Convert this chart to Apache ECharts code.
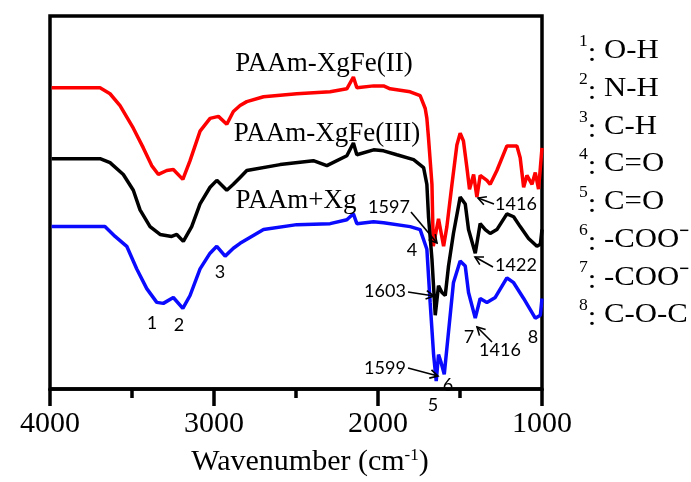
<!DOCTYPE html>
<html>
<head>
<meta charset="utf-8">
<script src="https://cdn.jsdelivr.net/npm/echarts@6/dist/echarts.min.js"></script>
<style>
html,body{margin:0;padding:0;background:#fff;}
#chart{width:691px;height:482px;}
</style>
</head>
<body>
<div id="chart"></div>
<script>
// ---- data (wavenumber in cm-1, relative transmittance, arbitrary offset units) ----
const seriesNames = ['PAAm-XgFe(II)', 'PAAm-XgFe(III)', 'PAAm+Xg'];
const redX = [3990,3695,3634,3573,3492,3431,3380,3339,3288,3248,3190,3146,3085,3024,2973,2922,2882,2841,2800,2698,2495,2292,2190,2150,2129,2027,1966,1926,1804,1743,1712,1702,1692,1671,1663,1631,1600,1580,1549,1519,1499,1479,1458,1442,1417,1397,1377,1336,1316,1275,1214,1153,1133,1112,1092,1061,1041,1021,1000];
const redY = [306,306,300,288,265,245,227,218,222,223,213,232,262,275,277,269,282,288,292,297,300,302,305,317,306,308,308,305,302,298,285,275,255,208,145,173,145,165,208,248,260,252,225,203,218,195,217,212,208,222,247,247,235,205,217,208,220,203,245];
const blackX = [3990,3695,3634,3553,3492,3451,3390,3329,3258,3227,3187,3136,3085,3024,2983,2922,2882,2841,2800,2597,2394,2312,2190,2150,2129,2027,1966,1885,1783,1722,1702,1692,1671,1651,1631,1610,1590,1570,1540,1499,1468,1448,1407,1377,1346,1316,1275,1214,1173,1133,1082,1031,1010,1000];
const blackY = [234,234,230,218,202,182,165,157,155,157,150,165,188,205,212,202,208,215,222,228,232,227,237,250,238,243,242,238,233,225,208,175,132,75,105,98,95,125,158,195,188,162,138,168,162,158,162,178,175,165,153,145,147,162];
const blueX = [3990,3665,3603,3532,3471,3410,3349,3309,3248,3190,3146,3085,3024,2983,2932,2882,2841,2698,2495,2292,2190,2150,2129,2027,1966,1804,1743,1702,1682,1661,1645,1631,1617,1596,1570,1540,1499,1468,1448,1407,1377,1336,1285,1214,1173,1112,1041,1010,1000];
const blueY = [165,165,155,145,122,102,88,87,93,82,95,122,138,145,135,143,148,162,167,168,172,178,168,170,169,165,162,142,88,35,8,35,28,15,58,108,130,125,98,72,92,88,93,113,108,92,72,75,92];
const xTickLabels = [4000, 3000, 2000, 1000];
const bandNums = ['1','2','3','4','5','6','7','8'];
const bandNames = ['O-H','N-H','C-H','C=O','C=O','-COO\u207B','-COO\u207B','C-O-C'];

// ---- helpers ----
const SERIF = '"Liberation Serif", "Times New Roman", serif';
const SANS = 'Lato, "Open Sans", sans-serif';
function zip(xs, ys){ return xs.map((x,i)=>[x, ys[i]]); }
function txt(t, x, y, size, fam, extra){
  return Object.assign({type:'text', x:x, y:y, z:100,
    style:{text:t, fontSize:size, fontFamily:fam, fill:'#000', align:'center', verticalAlign:'middle'}}, extra||{});
}
function arrow(x1,y1,x2,y2){
  const ang = Math.atan2(y2-y1, x2-x1), L = 9, a = 0.5;
  const p1 = [x2 - L*Math.cos(ang-a), y2 - L*Math.sin(ang-a)];
  const p2 = [x2 - L*Math.cos(ang+a), y2 - L*Math.sin(ang+a)];
  return [
    {type:'line', z:100, shape:{x1:x1,y1:y1,x2:x2,y2:y2}, style:{stroke:'#000', lineWidth:1.6}},
    {type:'polyline', z:100, shape:{points:[p1,[x2,y2],p2]}, style:{stroke:'#000', lineWidth:1.6, fill:null}}
  ];
}

const graphics = [];
// curve labels
graphics.push(txt(seriesNames[0], 324, 64, 27, SERIF));
graphics.push(txt(seriesNames[1], 327, 134, 27, SERIF));
graphics.push(txt(seriesNames[2], 296, 201, 27, SERIF));
// peak numbers
graphics.push(txt('1597', 389, 207, 18, SANS));
graphics.push(...arrow(411, 212, 437, 243));
graphics.push(txt('4', 412, 250, 18, SANS));
graphics.push(txt('1416', 516, 204, 18, SANS));
graphics.push(...arrow(494, 204, 478, 198));
graphics.push(txt('1422', 516, 265, 18, SANS));
graphics.push(...arrow(493, 267, 475, 257));
graphics.push(txt('1603', 385, 291, 18, SANS));
graphics.push(...arrow(408, 292, 434, 296));
graphics.push(txt('1599', 385, 368, 18, SANS));
graphics.push(...arrow(408, 368, 438, 376));
graphics.push(txt('6', 448, 385, 18, SANS));
graphics.push(txt('5', 433, 405, 18, SANS));
graphics.push(txt('7', 469, 337, 18, SANS));
graphics.push(txt('1416', 500, 350, 18, SANS));
graphics.push(...arrow(492, 342, 477, 327));
graphics.push(txt('8', 533, 337, 18, SANS));
graphics.push(txt('1', 152, 323, 18, SANS));
graphics.push(txt('2', 179, 325, 18, SANS));
graphics.push(txt('3', 220, 272, 18, SANS));
// band assignment list
bandNums.forEach((n, i) => {
  graphics.push({
    type:'text', x:579, y:51 + i*37.7, z:100, scaleX:1.1,
    style:{
      text:'{s|' + n + '}{c|:} ' + bandNames[i],
      fontSize:28, fontFamily:SERIF, fill:'#000', align:'left', verticalAlign:'middle',
      rich:{
        s:{fontSize:16, fontFamily:SERIF, fill:'#000', verticalAlign:'top'},
        c:{fontSize:28, fontFamily:SERIF, fill:'#000', padding:[6,0,0,0]}
      }
    }
  });
});

const chart = echarts.init(document.getElementById('chart'), null, {renderer:'canvas'});
chart.setOption({
  animation:false,
  backgroundColor:'#fff',
  grid:{left:50, right:149, top:16, bottom:87, show:true, borderColor:'#000', borderWidth:3.5, backgroundColor:'transparent'},
  xAxis:{
    type:'value', min:1000, max:4000, interval:1000, inverse:true,
    axisLine:{show:true, onZero:false, lineStyle:{color:'#000', width:3.5}},
    axisTick:{show:true, inside:false, length:17, lineStyle:{color:'#000', width:3.5}},
    minorTick:{show:true, splitNumber:2, length:9, lineStyle:{color:'#000', width:3.5}},
    splitLine:{show:false}, minorSplitLine:{show:false},
    axisLabel:{show:true, margin:20, fontSize:30, fontFamily:SERIF, color:'#000',
      formatter:(v)=> xTickLabels.indexOf(v) >= 0 ? String(v) : ''},
    name:'Wavenumber (cm{s|-1})', nameLocation:'middle', nameGap:58,
    nameTextStyle:{fontSize:30, fontFamily:SERIF, color:'#000', padding:[0,0,0,28],
      rich:{s:{fontSize:17, fontFamily:SERIF, color:'#000', verticalAlign:'top'}}}
  },
  yAxis:{type:'value', min:0, max:379, show:false, splitLine:{show:false}},
  series:[
    {name:seriesNames[0], type:'line', data:zip(redX, redY), showSymbol:false, symbol:'none',
      lineStyle:{color:'#ff0000', width:3.5}, itemStyle:{color:'#ff0000'}, z:3},
    {name:seriesNames[1], type:'line', data:zip(blackX, blackY), showSymbol:false, symbol:'none',
      lineStyle:{color:'#000000', width:3.5}, itemStyle:{color:'#000'}, z:4},
    {name:seriesNames[2], type:'line', data:zip(blueX, blueY), showSymbol:false, symbol:'none',
      lineStyle:{color:'#0a0aff', width:3.5}, itemStyle:{color:'#0a0aff'}, z:2}
  ],
  graphic:graphics
});
</script>
</body>
</html>
